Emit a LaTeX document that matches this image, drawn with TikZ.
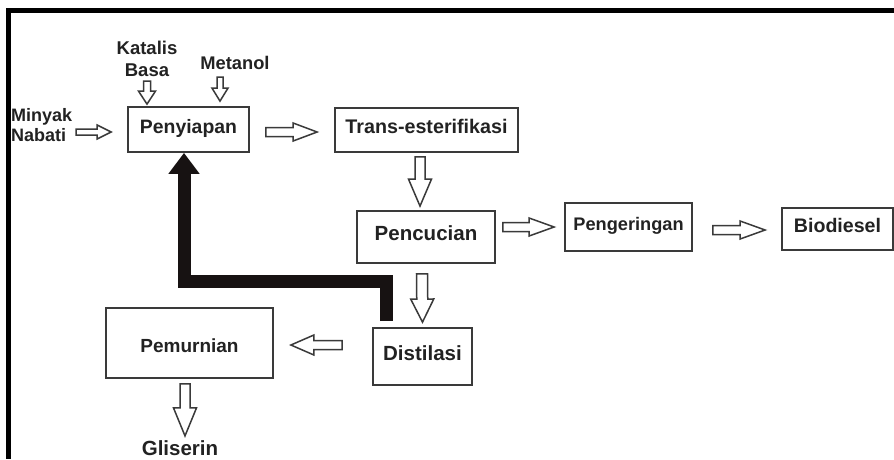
\documentclass[tikz,border=0pt]{standalone}
\usepackage{fontspec}
\setmainfont{Liberation Sans}
\usetikzlibrary{calc,arrows.meta}
\definecolor{ink}{HTML}{222222}
\definecolor{edge}{HTML}{3A3A3A}
\definecolor{barc}{HTML}{171212}
\newcommand{\fsz}[2]{\fontsize{#1}{#2}\selectfont\bfseries}
\tikzset{
  adims/.code args={#1/#2/#3}{\def\aSW{#1pt}\def\aHW{#2pt}\def\aHL{#3pt}},
  hollow/.style={draw=edge, line width=1.5pt, fill=white, line join=miter, adims=#1,
    to path={let \p1=(\tikztostart), \p2=(\tikztotarget),
      \n1={atan2(\y2-\y1,\x2-\x1)}, \n2={veclen(\x2-\x1,\y2-\y1)} in
      ([shift={(\p1)},rotate=\n1]0pt,\aSW) -- ([shift={(\p1)},rotate=\n1]\n2-\aHL,\aSW)
      -- ([shift={(\p1)},rotate=\n1]\n2-\aHL,\aHW) -- ([shift={(\p1)},rotate=\n1]\n2,0pt)
      -- ([shift={(\p1)},rotate=\n1]\n2-\aHL,-\aHW) -- ([shift={(\p1)},rotate=\n1]\n2-\aHL,-\aSW)
      -- ([shift={(\p1)},rotate=\n1]0pt,-\aSW) -- cycle}},
  box/.style={draw=edge, line width=1.8pt, inner sep=0pt, text=ink, text height=0.72em, text depth=0pt},
  lbl/.style={inner sep=0pt, text=ink},
  bigbar/.style={draw=barc, line width=13pt, line join=miter, -{Triangle[width=30pt,length=21pt]}},
}
\begin{document}
\begin{tikzpicture}[x=1pt,y=-1pt]
\useasboundingbox (0,0) rectangle (894,459);
\clip (0,0) rectangle (894,459);
\fill[white] (0,0) rectangle (894,459);
% frame
\fill[black] (6,8) rectangle (894,13);
\fill[black] (6,8) rectangle (11,459);

% boxes
\node[box, minimum width=121pt, minimum height=45pt, font=\fsz{19.4}{20}] (pen) at (188.5,129.5) {Penyiapan};
\node[box, minimum width=183pt, minimum height=44pt, font=\fsz{19.7}{20}] (trans) at (426.5,130) {Trans-esterifikasi};
\node[box, minimum width=138pt, minimum height=52pt, font=\fsz{20.5}{21}] (penc) at (426,237) {Pencucian};
\node[box, minimum width=127pt, minimum height=48pt, font=\fsz{18.2}{19}] (peng) at (628.5,227) {Pengeringan};
\node[box, minimum width=111pt, minimum height=42pt, font=\fsz{19.6}{20}] (bio) at (837.5,229) {Biodiesel};
\node[box, minimum width=99pt, minimum height=57pt, font=\fsz{20.5}{21}] (dist) at (422.5,356.5) {Distilasi};
\node[box, minimum width=167pt, minimum height=70pt, font=\fsz{19}{20}] (pem) at (189.5,343) {\raisebox{-6pt}{Pemurnian}};

% labels
\node[lbl, anchor=west, align=left, font=\fsz{18}{20}] (minyak) at (11,125) {Minyak\\Nabati};
\node[lbl, align=center, font=\fsz{18.5}{22}] (katalis) at (147,59) {Katalis\\Basa};
\node[lbl, font=\fsz{18.3}{19}] (metanol) at (235,63) {Metanol};
\node[lbl, anchor=base, font=\fsz{20.5}{21}] (glis) at (180,455) {Gliserin};

% connector end points
\coordinate (a1e) at ($(pen.west)+(-16,2.5)$);
\coordinate (a1s) at ($(a1e)+(-35,0)$);
\coordinate (a2e) at ($(pen.north)+(-41.5,-2)$);
\coordinate (a2s) at ($(a2e)+(0,-23)$);
\coordinate (a3e) at ($(pen.north)+(31.5,-5)$);
\coordinate (a3s) at ($(a3e)+(0,-24)$);
\coordinate (a4s) at ($(pen.east)+(16,2.5)$);
\coordinate (a4e) at ($(trans.west)+(-17,2)$);
\coordinate (a5s) at ($(trans.south)+(-6.5,4)$);
\coordinate (a5e) at ($(penc.north)+(-6,-4)$);
\coordinate (a6s) at ($(penc.east)+(7,-10)$);
\coordinate (a6e) at ($(peng.west)+(-10,0)$);
\coordinate (a7s) at ($(peng.east)+(20,3)$);
\coordinate (a7e) at ($(bio.west)+(-16,1)$);
\coordinate (a8s) at ($(penc.south)+(-4,10)$);
\coordinate (a8e) at ($(dist.north)+(0,-5)$);
\coordinate (a9s) at ($(dist.west)+(-30,-11.5)$);
\coordinate (a9e) at ($(pem.east)+(17,2)$);
\coordinate (a10s) at ($(pem.south)+(-4.5,5)$);
\coordinate (a10e) at ($(pem.south)+(-4.5,57)$);

% hollow arrows
\draw[hollow=3/7/14] (a1s) to (a1e);
\draw[hollow=3.5/8.5/13] (a2s) to (a2e);
\draw[hollow=3/8/13] (a3s) to (a3e);
\draw[hollow=4.5/9/24] (a4s) to (a4e);
\draw[hollow=5/11.5/27] (a5s) to (a5e);
\draw[hollow=4.5/9/25] (a6s) to (a6e);
\draw[hollow=4.5/9/25] (a7s) to (a7e);
\draw[hollow=5.5/11.5/23] (a8s) to (a8e);
\draw[hollow=4.5/10/23] (a9s) to (a9e);
\draw[hollow=5/11.5/28] (a10s) to (a10e);

% recycle bar
\coordinate (t0) at ($(dist.north)+(-36,-6)$);
\coordinate (tb) at ($(penc.south)+(0,18)$);
\coordinate (t3) at ($(pen.south)+(-4.5,0)$);
\draw[bigbar] (t0) -- (t0 |- tb) -- (t3 |- tb) -- (t3);
\end{tikzpicture}
\end{document}
